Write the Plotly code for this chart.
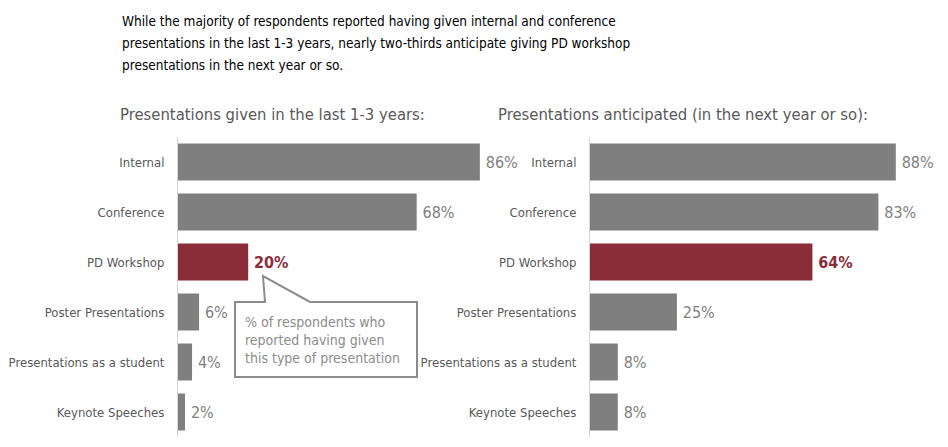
import plotly.graph_objects as go

# ---- data ----
categories = ["Internal", "Conference", "PD Workshop", "Poster Presentations",
              "Presentations as a student", "Keynote Speeches"]
given_last_years = [86, 68, 20, 6, 4, 2]
anticipated_next_year = [88, 83, 64, 25, 8, 8]
highlight = "PD Workshop"

title_lines = [
    "While the majority of respondents reported having given internal and conference",
    "presentations in the last 1-3 years, nearly two-thirds anticipate giving PD workshop",
    "presentations in the next year or so.",
]
left_title = "Presentations given in the last 1-3 years:"
right_title = "Presentations anticipated (in the next year or so):"
callout_text = "% of respondents who<br>reported having given<br>this type of presentation"

# ---- styles ----
FONT = "DejaVu Sans Condensed, DejaVu Sans, sans-serif"
GRAY = "#7f7f7f"
RED = "#8b2d39"
OFF = 8                      # default page body margin
FW, FH = 948 - OFF, 447 - OFF

def px_x(p):
    return (p - OFF) / FW

def px_y(p):
    return 1 - (p - OFF) / FH

def bar_trace(values, xa, ya):
    colors = [RED if c == highlight else GRAY for c in categories]
    texts = [f"\u2009<b>{v}%</b>" if c == highlight else f"\u2009{v}%" for c, v in zip(categories, values)]
    return go.Bar(
        x=values, y=categories, orientation="h",
        marker=dict(color=colors, line=dict(width=0)),
        text=texts, textposition="outside", cliponaxis=False,
        textfont=dict(family=FONT, size=16, color=colors),
        xaxis=xa, yaxis=ya, showlegend=False, hoverinfo="skip",
    )

fig = go.Figure()
fig.add_trace(bar_trace(given_last_years, "x", "y"))
fig.add_trace(bar_trace(anticipated_next_year, "x2", "y2"))

ydom = [px_y(437), px_y(137)]
xaxis_common = dict(showgrid=False, zeroline=False, showline=False, showticklabels=False, ticks="")
yaxis_common = dict(
    categoryorder="array", categoryarray=categories, autorange="reversed",
    showgrid=False, zeroline=False, showline=True, linecolor="#d4d4d4", linewidth=1,
    ticks="", ticklabelstandoff=10,
    tickfont=dict(family=FONT, size=13, color="#595959"), domain=ydom,
)

annotations = []
for i, line in enumerate(title_lines):
    annotations.append(dict(text=line, xref="paper", yref="paper", x=px_x(120), y=px_y(21 + 22 * i),
                            xanchor="left", yanchor="middle", align="left", showarrow=False,
                            font=dict(family=FONT, size=13.5, color="black")))
annotations += [
    dict(text=left_title, xref="paper", yref="paper", x=px_x(272), y=px_y(115),
         xanchor="center", yanchor="middle", showarrow=False,
         font=dict(family=FONT, size=16.5, color="#595959")),
    dict(text=right_title, xref="paper", yref="paper", x=px_x(683), y=px_y(115),
         xanchor="center", yanchor="middle", showarrow=False,
         font=dict(family=FONT, size=16.5, color="#595959")),
    dict(text=callout_text, xref="paper", yref="paper", x=px_x(243), y=px_y(340),
         xanchor="left", yanchor="middle", align="left", showarrow=False,
         font=dict(family=FONT, size=14, color="#8c8c8c")),
]

fig.update_layout(
    width=FW, height=FH,
    margin=dict(l=0, r=0, t=0, b=0),
    paper_bgcolor="white", plot_bgcolor="white",
    bargap=0.26,
    xaxis=dict(domain=[px_x(178), px_x(178 + 95 * 3.51)], range=[0, 95], anchor="y", **xaxis_common),
    yaxis=dict(anchor="x", **yaxis_common),
    xaxis2=dict(domain=[px_x(590), px_x(590 + 100 * 3.475)], range=[0, 100], anchor="y2", **xaxis_common),
    yaxis2=dict(anchor="x2", **yaxis_common),
    annotations=annotations,
    shapes=[
        dict(type="path", xref="paper", yref="paper",
             path=(f"M {px_x(235)} {px_y(302)} L {px_x(265)} {px_y(302)} L {px_x(263)} {px_y(276)} "
                   f"L {px_x(310)} {px_y(302)} L {px_x(417)} {px_y(302)} L {px_x(417)} {px_y(377)} "
                   f"L {px_x(235)} {px_y(377)} Z"),
             line=dict(color="#8c8c8c", width=2), fillcolor="white", layer="below"),
    ],
)

fig.write_html("out.html")
